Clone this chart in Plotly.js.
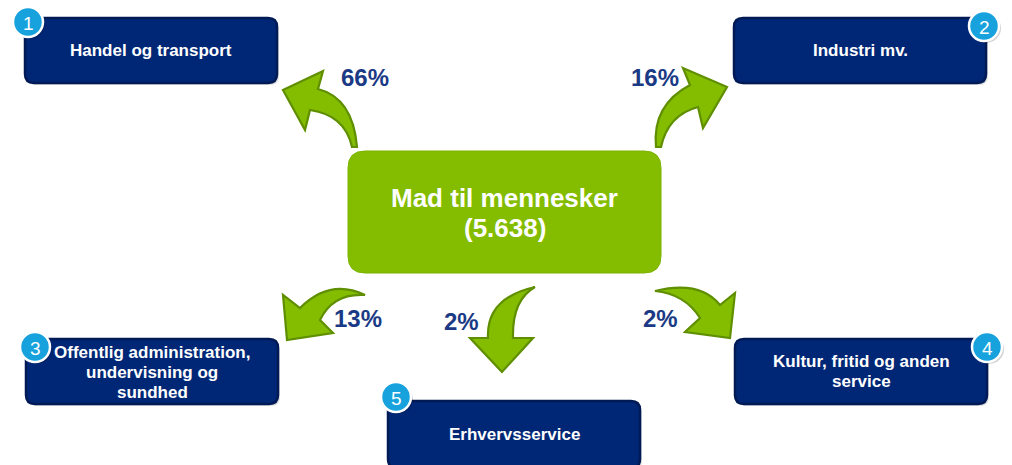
<!DOCTYPE html>
<html>
<head>
<meta charset="utf-8">
<script src="https://cdn.plot.ly/plotly-3.0.1.min.js"></script>
<style>html,body{margin:0;padding:0;background:#fff;}#chart{width:1012px;height:465px;}</style>
</head>
<body>
<div id="chart"></div>
<script>
// ---- data ----
const sourceLabel = "Mad til mennesker";
const sourceTotal = "5.638";
const sectorNumbers = [1, 2, 3, 4, 5];
const sectorNames = [
  "Handel og transport",
  "Industri mv.",
  "Offentlig administration,<br>undervisning og<br>sundhed",
  "Kultur, fritid og anden<br>service",
  "Erhvervsservice"
];
const sectorShares = [66, 16, 13, 2, 2];

// ---- layout geometry (pixel space) ----
const boxes = [
  {x0: 25, y0: 18, x1: 277, y1: 83},
  {x0: 734, y0: 18, x1: 986, y1: 83},
  {x0: 26, y0: 339, x1: 278, y1: 404},
  {x0: 735, y0: 339, x1: 987, y1: 404},
  {x0: 388, y0: 401, x1: 640, y1: 468}
];
const textCenters = [[151, 50], [860, 50], [152, 372], [861, 371], [514, 434]];
const badges = [[28, 22], [984, 26], [35, 347], [987, 347], [396, 397]];
const shareLabelPos = [[365, 77], [655, 77], [358, 318], [461, 321], [660, 318]];
const arrows = [
  "M 283,90 L 323,71 L 318,89 Q 353,98 357,147 L 352,147 Q 345,115 310,110 L 305,130 Z",
  "M 727,87 L 683,68 L 690,85 Q 652,105 656,147 L 661,147 Q 668,115 698,107 L 703,128 Z",
  "M 287,340 L 283,295 L 300,308 Q 330,278 365,295 Q 333,293 320,320 L 333,333 Z",
  "M 730,338 L 735,293 L 720,305 Q 700,280 655,291 Q 685,294 700,318 L 685,332 Z",
  "M 502,372 L 470,338 L 488,338 Q 486,298 535,287 Q 512,300 513,338 L 533,338 Z"
];
const center = {x0: 348, y0: 151, x1: 661, y1: 273};

function rr(b, r) {
  const {x0, y0, x1, y1} = b;
  return `M ${x0+r},${y0} L ${x1-r},${y0} Q ${x1},${y0} ${x1},${y0+r} L ${x1},${y1-r} Q ${x1},${y1} ${x1-r},${y1} L ${x0+r},${y1} Q ${x0},${y1} ${x0},${y1-r} L ${x0},${y0+r} Q ${x0},${y0} ${x0+r},${y0} Z`;
}

const shapes = [];
const annotations = [];
const font = "Liberation Sans, Arial, sans-serif";

function addLines(lines, cx, cy, spacing, f) {
  const n = lines.length;
  lines.forEach((t, k) => {
    annotations.push({x: cx, y: cy + (k - (n - 1) / 2) * spacing, xref: "x", yref: "y",
      text: t, showarrow: false, align: "center", font: f});
  });
}

// arrows
arrows.forEach(p => shapes.push({type: "path", xref: "x", yref: "y", path: p,
  fillcolor: "#84bc00", line: {color: "#5f8f00", width: 2.2}}));

// center box
shapes.push({type: "path", xref: "x", yref: "y", path: rr(center, 17),
  fillcolor: "#84bc00", line: {color: "#7cb300", width: 1}});
addLines([sourceLabel, "(" + sourceTotal + ")"], (center.x0 + center.x1) / 2, 213, 30,
  {family: font, size: 26, color: "#ffffff", weight: "bold"});

// sector boxes
boxes.forEach((b, i) => {
  const sh = {x0: b.x0 + 2, y0: b.y0 + 2, x1: b.x1 + 2, y1: b.y1 + 2};
  shapes.push({type: "path", xref: "x", yref: "y", path: rr(sh, 9),
    fillcolor: "rgba(0,0,0,0.12)", line: {width: 0}});
  shapes.push({type: "path", xref: "x", yref: "y", path: rr(b, 9),
    fillcolor: "#002776", line: {color: "#001a55", width: 2.5}});
});

// badges
badges.forEach((c, i) => {
  const [cx, cy] = c, r = 15;
  shapes.push({type: "circle", xref: "x", yref: "y", x0: cx - r + 2, x1: cx + r + 2, y0: cy - r + 2, y1: cy + r + 2,
    fillcolor: "rgba(0,0,0,0.18)", line: {width: 0}});
  shapes.push({type: "circle", xref: "x", yref: "y", x0: cx - r, x1: cx + r, y0: cy - r, y1: cy + r,
    fillcolor: "#17a2dd", line: {color: "#ffffff", width: 2.5}});
});

// sector names (drawn after badges, as in the reference where text overlaps badge 3)
sectorNames.forEach((name, i) => {
  addLines(name.split("<br>"), textCenters[i][0], textCenters[i][1], 20,
    {family: font, size: 17, color: "#ffffff", weight: "bold"});
});

badges.forEach((c, i) => {
  annotations.push({x: c[0], y: c[1] + 1, xref: "x", yref: "y", text: String(sectorNumbers[i]), showarrow: false,
    font: {family: font, size: 19, color: "#ffffff"}});
});

// share labels
sectorShares.forEach((s, i) => {
  annotations.push({x: shareLabelPos[i][0], y: shareLabelPos[i][1], xref: "x", yref: "y",
    text: s + "%", showarrow: false,
    font: {family: font, size: 24, color: "#1b3a85", weight: "bold"}});
});

const layout = {
  width: 1012, height: 465,
  margin: {l: 0, r: 0, t: 0, b: 0},
  paper_bgcolor: "#ffffff", plot_bgcolor: "#ffffff",
  xaxis: {range: [0, 1012], visible: false, fixedrange: true},
  yaxis: {range: [465, 0], visible: false, fixedrange: true},
  showlegend: false,
  shapes: shapes,
  annotations: annotations
};

Plotly.newPlot("chart", [], layout, {displayModeBar: false, staticPlot: true});
</script>
</body>
</html>
